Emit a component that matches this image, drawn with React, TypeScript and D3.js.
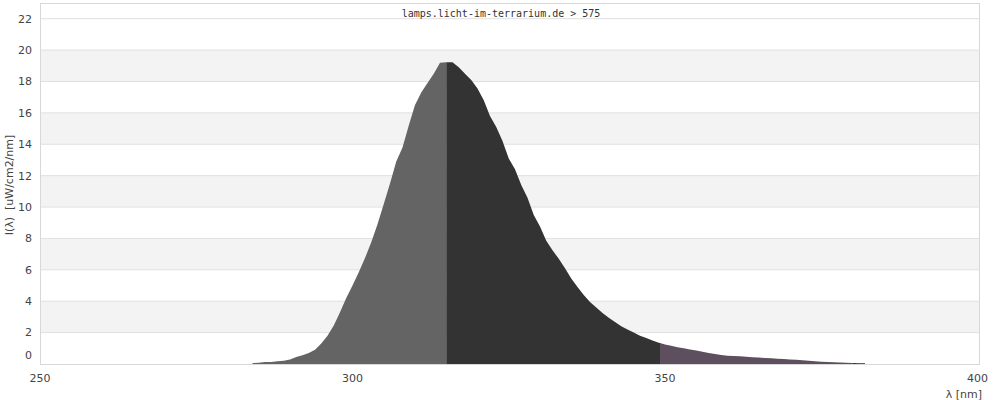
import React from "react";
import * as d3 from "d3";

const wavelengths: number[] = [
  284, 285, 286, 287, 288, 289, 290, 291, 292, 293, 294, 295, 296, 297, 298, 299,
  300, 301, 302, 303, 304, 305, 306, 307, 308, 309, 310, 311, 312, 313, 314, 315,
  316, 317, 318, 319, 320, 321, 322, 323, 324, 325, 326, 327, 328, 329, 330, 331,
  332, 333, 334, 335, 336, 337, 338, 339, 340, 341, 342, 343, 344, 345, 346, 347,
  348, 349, 350, 351, 352, 353, 354, 355, 356, 357, 358, 359, 360, 361, 362, 363,
  364, 365, 366, 367, 368, 369, 370, 371, 372, 373, 374, 375, 376, 377, 378, 379,
  380, 381, 382,
];
const intensity: number[] = [
  0.06, 0.08, 0.12, 0.13, 0.17, 0.2, 0.28, 0.45, 0.55, 0.7, 0.9, 1.3, 1.8, 2.45, 3.3, 4.2,
  5.0, 5.85, 6.75, 7.75, 8.9, 10.2, 11.5, 12.9, 13.8, 15.2, 16.5, 17.3, 17.9, 18.5, 19.2, 19.23,
  19.23, 18.9, 18.5, 18.1, 17.55, 16.8, 15.8, 15.1, 14.2, 13.1, 12.4, 11.4, 10.6, 9.5, 8.76, 7.85,
  7.25, 6.7, 6.1, 5.45, 4.9, 4.4, 3.95, 3.6, 3.25, 2.95, 2.68, 2.4, 2.2, 2.0, 1.8, 1.65,
  1.5, 1.36, 1.25, 1.16, 1.07, 1.0, 0.93, 0.86, 0.78, 0.7, 0.63, 0.57, 0.53, 0.51, 0.49, 0.46,
  0.43, 0.41, 0.38, 0.36, 0.34, 0.32, 0.29, 0.27, 0.24, 0.21, 0.18, 0.15, 0.13, 0.11, 0.09, 0.08,
  0.06, 0.05, 0.05,
];
const regionBounds: number[] = [250, 315, 349.2, 380, 400];
const regionColors: string[] = ["#646464", "#333333", "#5e4f5e", "#4d124f"];
const xTicks: number[] = [250, 300, 350, 400];
const yTicks: number[] = [0, 2, 4, 6, 8, 10, 12, 14, 16, 18, 20, 22];
const bandStarts: number[] = [2, 6, 10, 14, 18];
const title = "lamps.licht-im-terrarium.de > 575";
const yTitle = "I(\u03BB)\u00A0\u00A0[uW/cm2/nm]";
const xTitle = "\u03BB [nm]";

export default function App() {
  const W = 1000, H = 400;
  const left = 40, right = 980, top = 3, bottom = 364;
  const x = d3.scaleLinear().domain([250, 400]).range([40, 977.5]);
  const y = d3.scaleLinear().domain([0, 23]).range([bottom, top]);
  const data = wavelengths.map((w, i) => ({ w, v: intensity[i] }));
  const area = d3
    .area<{ w: number; v: number }>()
    .x((d) => x(d.w))
    .y0(y(0))
    .y1((d) => y(d.v));
  const path = area(data) || "";
  const font = "'DejaVu Sans', sans-serif";
  return (
    <svg
      width={W}
      height={H}
      style={{ position: "absolute", left: 0, top: 0, background: "#fff" }}
    >
      <defs>
        {regionColors.map((c, i) => (
          <clipPath id={`reg${i}`} key={i}>
            <rect
              x={x(regionBounds[i])}
              y={top}
              width={x(regionBounds[i + 1]) - x(regionBounds[i])}
              height={bottom - top}
            />
          </clipPath>
        ))}
      </defs>
      {bandStarts.map((b) => (
        <rect
          key={b}
          x={left}
          y={y(b + 2)}
          width={right - left}
          height={y(b) - y(b + 2)}
          fill="#f3f3f3"
        />
      ))}
      {yTicks.slice(1).map((t) => (
        <line key={t} x1={left} x2={right} y1={y(t)} y2={y(t)} stroke="#e0e0e0" strokeWidth={1} />
      ))}
      {regionColors.map((c, i) => (
        <path key={i} d={path} fill={c} clipPath={`url(#reg${i})`} />
      ))}
      <rect
        x={left + 0.5}
        y={top + 0.5}
        width={right - left - 1}
        height={bottom - top}
        fill="none"
        stroke="#d8d8d8"
        strokeWidth={1}
      />
      {yTicks.map((t) => (
        <text
          key={t}
          x={32}
          y={t === 0 ? y(t) - 9 : y(t)}
          dy="0.35em"
          textAnchor="end"
          fontFamily={font}
          fontSize={11}
          fill="#444"
        >
          {t}
        </text>
      ))}
      {xTicks.map((t) => (
        <text
          key={t}
          x={x(t)}
          y={378}
          dy="0.35em"
          textAnchor="middle"
          fontFamily={font}
          fontSize={11}
          fill="#444"
        >
          {t}
        </text>
      ))}
      <text
        x={982}
        y={394}
        dy="0.35em"
        textAnchor="end"
        fontFamily={font}
        fontSize={11}
        fill="#444"
      >
        {xTitle}
      </text>
      <text
        transform="translate(9,185) rotate(-90)"
        dy="0.35em"
        textAnchor="middle"
        fontFamily={font}
        fontSize={11}
        fill="#444"
      >
        {yTitle}
      </text>
      <text
        x={501}
        y={13}
        dy="0.35em"
        textAnchor="middle"
        fontFamily="'DejaVu Sans Mono', monospace"
        fontSize={10}
        fill="#333"
      >
        {title}
      </text>
    </svg>
  );
}
